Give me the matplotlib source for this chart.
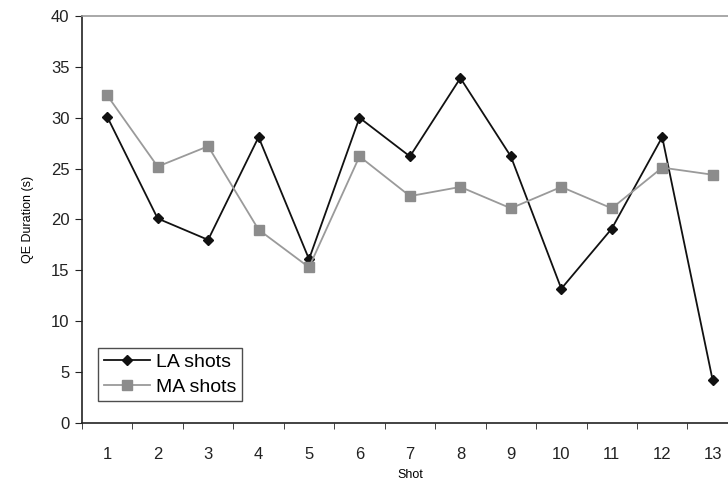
import numpy as np
import matplotlib.pyplot as plt

plt.rcParams['font.family'] = ['Liberation Sans', 'DejaVu Sans']

# data
shots = np.arange(1, 14)
la_shots = [30.1, 20.1, 18.0, 28.1, 16.1, 30.0, 26.2, 33.9, 26.2, 13.2, 19.1, 28.1, 4.2]
ma_shots = [32.2, 25.2, 27.2, 19.0, 15.3, 26.2, 22.3, 23.2, 21.1, 23.2, 21.1, 25.1, 24.4]

fig = plt.figure(figsize=(7.28, 4.83), dpi=100)
ax = fig.add_axes([0.1126, 0.1242, 0.901, 0.8427])

ax.plot(shots, la_shots, color='#111111', lw=1.3, marker='D', ms=5,
        mfc='#111111', mec='#111111', label='LA shots')
ax.plot(shots, ma_shots, color='#9a9a9a', lw=1.3, marker='s', ms=7,
        mfc='#8c8c8c', mec='#8c8c8c', label='MA shots')

ax.set_xlim(0.5, 13.5)
ax.set_ylim(0, 40)
ax.set_yticks(np.arange(0, 41, 5))
ax.set_xticks(shots)
ax.set_xticks(np.arange(0.5, 13.6, 1), minor=True)
ax.tick_params(axis='x', which='major', length=0, pad=17, labelsize=12, colors='#222222')
ax.tick_params(axis='x', which='minor', length=4, direction='out', color='#222222')
ax.tick_params(axis='y', length=5, direction='out', labelsize=12, colors='#222222', pad=4)

for s in ['left', 'bottom']:
    ax.spines[s].set_color('#222222')
    ax.spines[s].set_linewidth(1.2)
ax.spines['top'].set_color('#999999')
ax.spines['top'].set_linewidth(1.2)
ax.spines['right'].set_visible(False)

ax.set_xlabel('Shot', fontsize=9, labelpad=5)
ax.set_ylabel('QE Duration (s)', fontsize=9, labelpad=12)

leg = ax.legend(loc='lower left', bbox_to_anchor=(0.024, 0.053), fontsize=14,
                frameon=True, fancybox=False, handlelength=2.4, borderpad=0.3,
                labelspacing=0.35, handletextpad=0.3, borderaxespad=0)
leg.get_frame().set_edgecolor('#222222')
leg.get_frame().set_linewidth(1.0)

fig.savefig('out.png', dpi=100)
